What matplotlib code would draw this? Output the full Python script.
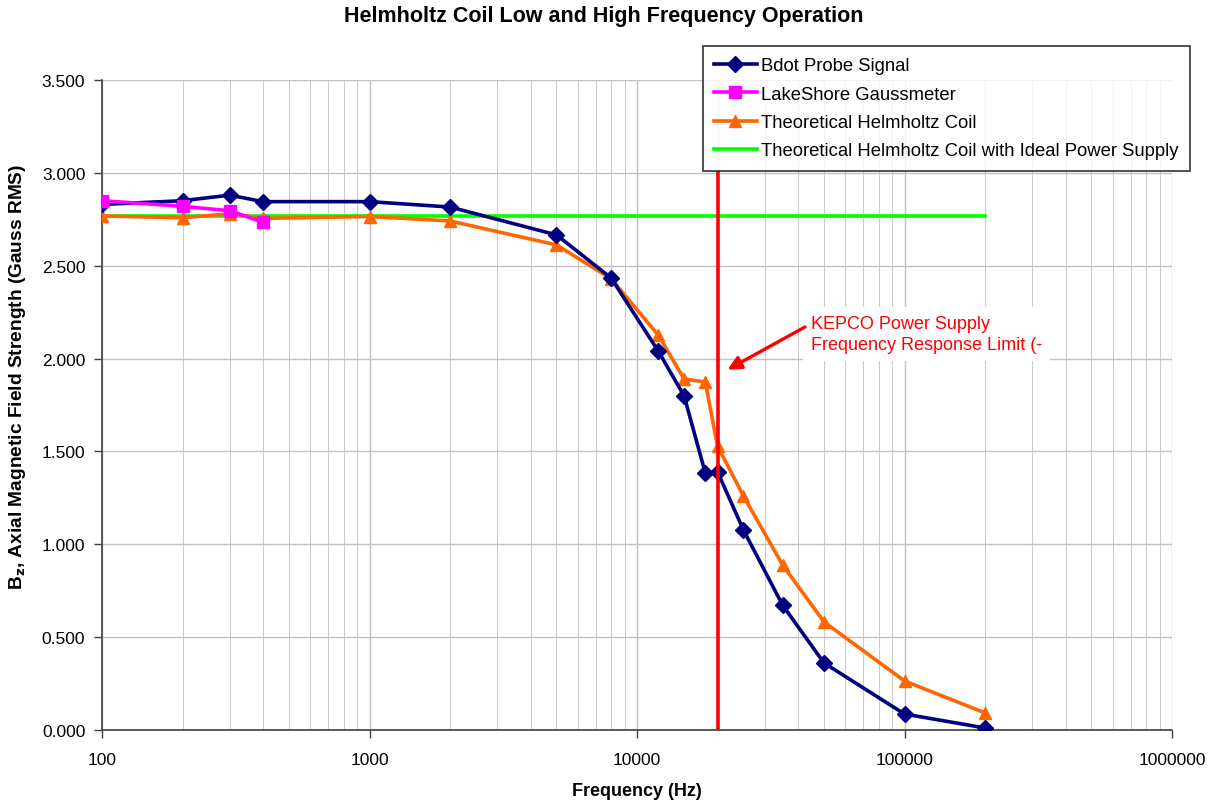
import matplotlib
matplotlib.use("Agg")
import matplotlib.pyplot as plt
from matplotlib.ticker import FixedLocator, FuncFormatter, LogLocator

plt.rcParams['font.family'] = ['Liberation Sans', 'DejaVu Sans']

freq_bdot = [100, 200, 300, 400, 1000, 2000, 5000, 8000, 12000, 15000, 18000, 20000,
             25000, 35000, 50000, 100000, 200000]
bdot = [2.83, 2.85, 2.88, 2.845, 2.845, 2.816, 2.666, 2.434, 2.041, 1.799, 1.384, 1.39,
        1.077, 0.673, 0.361, 0.086, 0.011]

freq_lake = [100, 200, 300, 400]
lake = [2.85, 2.82, 2.796, 2.734]

freq_theo = [100, 200, 300, 400, 1000, 2000, 5000, 8000, 12000, 15000, 18000, 20000,
             25000, 35000, 50000, 100000, 200000]
theo = [2.768, 2.758, 2.78, 2.755, 2.765, 2.741, 2.612, 2.43, 2.127, 1.89, 1.874, 1.529,
        1.26, 0.889, 0.582, 0.264, 0.092]

freq_ideal = [100, 200000]
ideal = [2.768, 2.768]

kepco_limit = 20000
kepco_top = 3.0

x_ticks = [100, 1000, 10000, 100000, 1000000]
y_ticks = [0.0, 0.5, 1.0, 1.5, 2.0, 2.5, 3.0, 3.5]

fig = plt.figure(figsize=(12.18, 8.04), dpi=100)
ax = fig.add_axes([102/1218, 1-731/804, (1172-102)/1218, (731-81)/804])

ax.plot(freq_ideal, ideal, color='#00FF00', lw=2.6, label='Theoretical Helmholtz Coil with Ideal Power Supply', zorder=3)
ax.plot(freq_theo, theo, color='#FF6600', lw=2.6, marker='^', ms=9, label='Theoretical Helmholtz Coil', zorder=4)
ax.plot(freq_bdot, bdot, color='#000080', lw=2.6, marker='D', ms=8.5, label='Bdot Probe Signal', zorder=5)
ax.plot(freq_lake, lake, color='#FF00FF', lw=2.6, marker='s', ms=8, label='LakeShore Gaussmeter', zorder=6)
ax.plot([kepco_limit, kepco_limit], [0, kepco_top], color='#FF0000', lw=2.6, zorder=7)

ax.set_xscale('log')
ax.set_xlim(100, 1000000)
ax.set_ylim(0, 3.5)
ax.xaxis.set_major_locator(FixedLocator(x_ticks))
ax.xaxis.set_major_formatter(FuncFormatter(lambda v, p: f"{int(round(v))}"))
ax.xaxis.set_minor_locator(LogLocator(base=10, subs=range(2, 10)))
ax.xaxis.set_minor_formatter(FuncFormatter(lambda v, p: ""))
ax.yaxis.set_major_locator(FixedLocator(y_ticks))
ax.yaxis.set_major_formatter(FuncFormatter(lambda v, p: f"{v:.3f}"))

ax.grid(True, which='major', color='#C0C0C0', lw=1.0, zorder=0)
ax.grid(True, which='minor', axis='x', color='#CCCCCC', lw=0.8, zorder=0)
ax.set_axisbelow(True)
for s in ['top', 'right']:
    ax.spines[s].set_visible(False)
for s in ['left', 'bottom']:
    ax.spines[s].set_color('#404040')
    ax.spines[s].set_linewidth(1.2)
ax.tick_params(axis='both', which='major', direction='out', length=6, width=1, color='#404040',
               labelsize=12.5, pad=6)
ax.tick_params(axis='x', which='minor', length=0)
ax.tick_params(axis='x', which='major', pad=10)

ax.set_xlabel('Frequency (Hz)', fontsize=13, fontweight='bold', labelpad=11)
ax.set_ylabel('B$_\\mathbf{z}$, Axial Magnetic Field Strength (Gauss RMS)', fontsize=13.8,
              fontweight='bold', labelpad=8)
ax.yaxis.set_label_coords(-0.069, 0.545)
fig.suptitle('Helmholtz Coil Low and High Frequency Operation', fontsize=15.5, fontweight='bold',
             y=0.992, x=0.496)

ax.text(44670, 2.235, 'KEPCO Power Supply\nFrequency Response Limit (-',
        fontsize=13, color='#FF0000', va='top', ha='left', linespacing=1.32,
        bbox=dict(boxstyle='square,pad=0.45', fc='white', ec='none'), zorder=8)
ax.annotate('', xy=(21800, 1.94), xytext=(42460, 2.17), textcoords='data',
            arrowprops=dict(arrowstyle='-|>', color='#FF0000', lw=2.4, mutation_scale=20,
                            shrinkA=0, shrinkB=0), zorder=9)

handles, labels = ax.get_legend_handles_labels()
order = ['Bdot Probe Signal', 'LakeShore Gaussmeter', 'Theoretical Helmholtz Coil',
         'Theoretical Helmholtz Coil with Ideal Power Supply']
hmap = dict(zip(labels, handles))
leg = fig.legend([hmap[k] for k in order], order, loc='upper left',
                 bbox_to_anchor=(703/1218, 1-47/804), fontsize=13.3, frameon=True,
                 fancybox=False, edgecolor='black', handlelength=2.3, handletextpad=0.25,
                 borderpad=0.6, labelspacing=0.62, borderaxespad=0)
leg.get_frame().set_linewidth(1.2)

fig.savefig('out.png', dpi=100)
